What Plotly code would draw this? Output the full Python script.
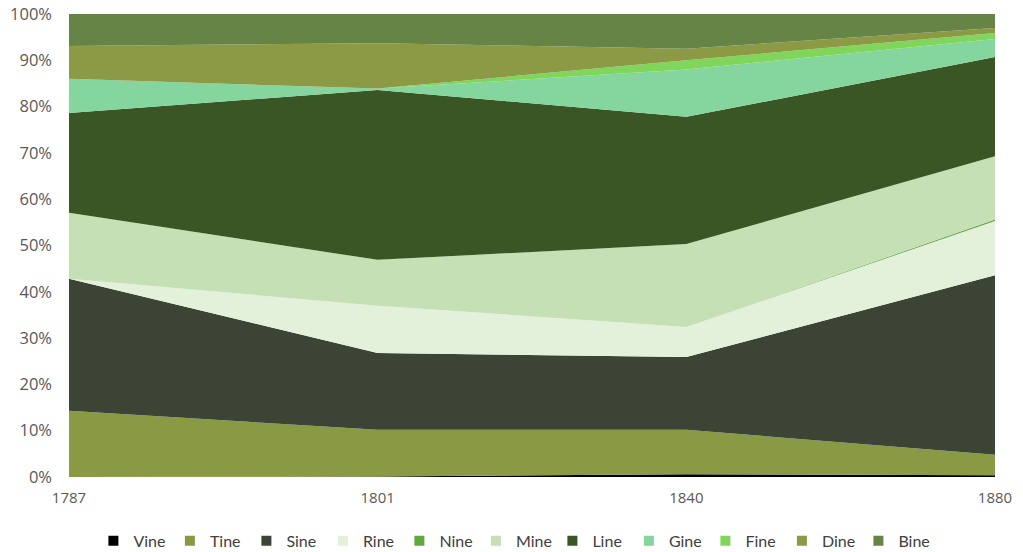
import plotly.graph_objects as go

years = ['1787', '1801', '1840', '1880']
series_names = ['Vine', 'Tine', 'Sine', 'Rine', 'Nine', 'Mine', 'Line', 'Gine', 'Fine', 'Dine', 'Bine']

Vine = [0.0, 0.1, 0.6, 0.4]
Tine = [14.3, 10.1, 9.6, 4.4]
Sine = [28.5, 16.6, 15.7, 38.8]
Rine = [0.0, 10.2, 6.5, 11.7]
Nine = [0.0, 0.0, 0.0, 0.3]
Mine = [14.3, 9.9, 17.9, 13.7]
Line = [21.5, 36.7, 27.5, 21.4]
Gine = [7.4, 0.3, 10.2, 3.9]
Fine = [0.0, 0.0, 2.0, 1.3]
Dine = [7.1, 9.8, 2.5, 1.1]
Bine = [6.9, 6.3, 7.5, 3.0]

values = [Vine, Tine, Sine, Rine, Nine, Mine, Line, Gine, Fine, Dine, Bine]
colors = ['#000000', '#8a9a44', '#3c4535', '#e3f0da', '#5dab40', '#c5e0b4',
          '#3a5624', '#84d59e', '#7fd65a', '#8c9a45', '#658445']

fig = go.Figure()
for name, vals, col in zip(series_names, values, colors):
    fig.add_trace(go.Scatter(
        x=years, y=vals, name=name, mode='lines', line=dict(width=0, color=col),
        fillcolor=col, stackgroup='one', groupnorm='percent', showlegend=False,
        legendgroup=name))
for name, col in zip(series_names, colors):
    fig.add_trace(go.Scatter(
        x=[None], y=[None], name=name, mode='markers',
        marker=dict(symbol='square', size=10, color=col), legendgroup=name,
        showlegend=True))

fig.update_layout(
    width=1023, height=552,
    margin=dict(l=69, r=28, t=14, b=75),
    paper_bgcolor='white', plot_bgcolor='white',
    xaxis=dict(type='category', range=[0, 3], showgrid=False, zeroline=False,
               showline=False, ticks='', ticklabelstandoff=10, automargin=False,
               tickfont=dict(family='Open Sans', size=15, color='#595959')),
    yaxis=dict(range=[0, 100], dtick=10, ticksuffix='%', showgrid=False,
               zeroline=False, showline=False, ticks='', ticklabelstandoff=16,
               automargin=False,
               tickfont=dict(family='Open Sans', size=16.5, color='#595959')),
    legend=dict(orientation='h', x=0.481, xanchor='center',
                yref='container', y=0.02, yanchor='middle',
                font=dict(family='Lato', size=16, color='#404040'),
                entrywidth=31.5, entrywidthmode='pixels', itemwidth=30,
                tracegroupgap=0),
    showlegend=True,
)

fig.write_html('out.html')
